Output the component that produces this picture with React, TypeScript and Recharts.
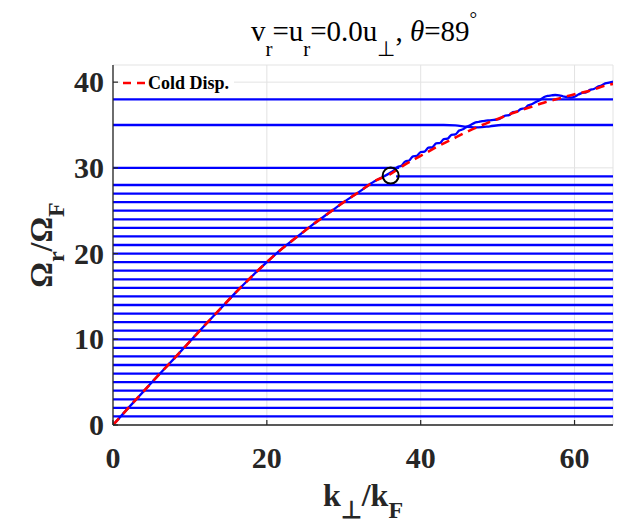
import React from 'react';
import { LineChart, Line, XAxis, YAxis, CartesianGrid, ReferenceDot } from 'recharts';

// cold dispersion (red dashed)
const kCold = [0, 2, 4, 6, 8, 10, 12, 14, 16, 18, 20, 22, 24, 26, 28, 30, 32, 34, 36, 38, 40, 42, 44, 46, 48, 50, 52, 54, 56, 58, 60, 62, 64, 65];
const omegaCold = [0, 2.0, 3.95, 5.9, 7.8, 9.75, 11.7, 13.6, 15.5, 17.3, 19.0, 20.6, 22.0, 23.4, 24.7, 26.0, 27.2, 28.45, 29.25, 30.4, 31.4, 32.4, 33.3, 34.2, 35.0, 35.7, 36.4, 37.0, 37.6, 38.1, 38.6, 39.0, 39.6, 39.8];

// blue branch following the dispersion curve
const kBranch = [0, 2, 4, 6, 8, 10, 12, 14, 16, 18, 20, 22, 24, 26, 28, 30, 32, 34, 35, 36,
  36.5, 37, 37.5, 38, 38.5, 39, 39.5, 40, 40.5, 41, 41.5, 42, 42.5, 43, 43.5, 44, 44.5, 45, 45.5, 46,
  46.5, 47, 47.5, 48, 48.5, 49, 49.5, 50, 50.5, 51, 51.5, 52, 52.5, 53, 53.5, 54, 54.5, 55, 55.5, 56,
  56.5, 57, 57.5, 58, 58.5, 59, 59.5, 60, 60.5, 61, 61.5, 62, 62.5, 63, 63.5, 64, 64.5, 65];
const omegaBranch = [0, 2.0, 3.95, 5.9, 7.8, 9.75, 11.7, 13.6, 15.5, 17.3, 19.0, 20.6, 22.0, 23.4, 24.7, 26.0, 27.2, 28.45, 28.9, 29.4,
  29.7, 30.1, 30.25, 30.75, 30.85, 31.35, 31.4, 31.85, 31.9, 32.35, 32.4, 32.85, 32.9, 33.35, 33.4, 33.85, 33.9, 34.35, 34.5, 34.8,
  35.0, 35.25, 35.35, 35.45, 35.5, 35.55, 35.6, 35.65, 35.85, 36.1, 36.15, 36.5, 36.55, 36.85, 36.95, 37.3, 37.45, 37.7, 37.9, 38.25,
  38.4, 38.45, 38.5, 38.45, 38.35, 38.25, 38.2, 38.3, 38.55, 38.75, 38.8, 39.1, 39.2, 39.45, 39.6, 39.85, 39.95, 40.05];

// flat branches
const fullLevels = [1, 2, 3, 4, 5, 6, 7, 8, 9, 10, 11, 12, 13, 14, 15, 16, 17, 18, 19, 20, 21, 22, 23, 24, 25, 26, 27, 28, 38];
const partialLevels = [30, 29];
const partialFrom = [0, 36.8];
const partialTo = [37.2, 65];

// level 35 branch with its small dip at the crossing
const k35 = [0, 43, 44.5, 46, 47.5, 49, 50.5, 65];
const omega35 = [35, 35, 34.95, 34.8, 34.72, 34.85, 35, 35];

const marker = [36.1, 29.1];

const xTicks = [0, 20, 40, 60];
const yTicks = [0, 10, 20, 30, 40];

const FONT = '"Liberation Serif", "Times New Roman", serif';
const INK = '#262626';
const BLUE = '#0000ff';

const coldData = kCold.map((k, i) => ({ k, w: omegaCold[i] }));
const branchData = kBranch.map((k, i) => ({ k, w: omegaBranch[i] }));
const data35 = k35.map((k, i) => ({ k, w: omega35[i] }));

const BottomTick = ({ x, y, payload }: any) => (
  <g>
    <line x1={x} x2={x} y1={y} y2={y - 5} stroke={INK} strokeWidth={1.2} />
    <text x={x} y={y + 43} textAnchor="middle" fontFamily={FONT} fontWeight="bold" fontSize={30} fill={INK}>{payload.value}</text>
  </g>
);
const LeftTick = ({ x, y, payload }: any) => (
  <g>
    <line x1={x} x2={x + 5} y1={y} y2={y} stroke={INK} strokeWidth={1.2} />
    <text x={x - 9} y={y + 10} textAnchor="end" fontFamily={FONT} fontWeight="bold" fontSize={30} fill={INK}>{payload.value}</text>
  </g>
);
const TopTick = ({ x, y }: any) => <line x1={x} x2={x} y1={y} y2={y + 5} stroke={INK} strokeWidth={1.2} />;
const RightTick = ({ x, y }: any) => <line x1={x} x2={x - 5} y1={y} y2={y} stroke={INK} strokeWidth={1.2} />;

export default function App() {
  return (
    <div style={{ position: 'absolute', left: 0, top: 0, width: 628, height: 531, background: '#fff' }}>
      <LineChart width={628} height={531} margin={{ top: 65, right: 15, bottom: 0, left: 0 }}>
        <CartesianGrid stroke="#e3e3e3" strokeWidth={1} />
        <XAxis dataKey="k" type="number" domain={[0, 65]} ticks={xTicks} height={106} allowDataOverflow
          axisLine={{ stroke: INK, strokeWidth: 1.3 }} tickLine={false} tickSize={0} tickMargin={0} tick={<BottomTick />} />
        <XAxis xAxisId="top" orientation="top" type="number" domain={[0, 65]} ticks={xTicks} height={0} allowDataOverflow
          axisLine={{ stroke: INK, strokeWidth: 1.3 }} tickLine={false} tickSize={0} tickMargin={0} tick={<TopTick />} />
        <YAxis type="number" domain={[0, 42]} ticks={yTicks} width={113} allowDataOverflow
          axisLine={{ stroke: INK, strokeWidth: 1.3 }} tickLine={false} tickSize={0} tickMargin={0} tick={<LeftTick />} />
        <YAxis yAxisId="right" orientation="right" type="number" domain={[0, 42]} ticks={yTicks} width={0} allowDataOverflow
          axisLine={{ stroke: INK, strokeWidth: 1.3 }} tickLine={false} tickSize={0} tickMargin={0} tick={<RightTick />} />

        {fullLevels.map((lv) => (
          <Line key={'lv' + lv} data={[{ k: 0, w: lv }, { k: 65, w: lv }]} dataKey="w" type="linear"
            stroke={BLUE} strokeWidth={2.3} dot={false} activeDot={false} isAnimationActive={false} />
        ))}
        {partialLevels.map((lv, i) => (
          <Line key={'pl' + lv} data={[{ k: partialFrom[i], w: lv }, { k: partialTo[i], w: lv }]} dataKey="w" type="linear"
            stroke={BLUE} strokeWidth={2.3} dot={false} activeDot={false} isAnimationActive={false} />
        ))}
        <Line data={data35} dataKey="w" type="monotone" stroke={BLUE} strokeWidth={2.3} dot={false} activeDot={false} isAnimationActive={false} />
        <Line data={branchData} dataKey="w" type="monotone" stroke={BLUE} strokeWidth={2.3} dot={false} activeDot={false} isAnimationActive={false} />
        <Line data={coldData} dataKey="w" type="monotone" stroke="#ff0000" strokeWidth={2.6} strokeDasharray="9 6"
          dot={false} activeDot={false} isAnimationActive={false} />
        <ReferenceDot x={marker[0]} y={marker[1]} r={8} fill="none" stroke="#000" strokeWidth={2} />
      </LineChart>

      <svg width={628} height={531} style={{ position: 'absolute', left: 0, top: 0, pointerEvents: 'none' }}>
        <rect x={120} y={71} width={114} height={24} fill="#fff" />
        <line x1={119} x2={146} y1={83} y2={83} stroke="#ff0000" strokeWidth={2.6} strokeDasharray="8 6" strokeDashoffset={-4} />
        <text x={148} y={89} fontFamily={FONT} fontWeight="bold" fontSize={18} fill="#000">Cold Disp.</text>

        <text x={364} y={41} textAnchor="middle" fontFamily={FONT} fontSize={29} fill="#000">
          v<tspan dy={15} fontSize={21}>r</tspan><tspan dy={-15}>=u</tspan><tspan dy={15} fontSize={21}>r</tspan>
          <tspan dy={-15}>=0.0u</tspan><tspan dy={15} fontSize={21}>⊥</tspan><tspan dy={-15}>, </tspan>
          <tspan fontStyle="italic">θ</tspan><tspan>=89</tspan><tspan dy={-16} fontSize={19}>°</tspan>
        </text>

        <text x={363} y={506} textAnchor="middle" fontFamily={FONT} fontWeight="bold" fontSize={32} fill={INK}>
          k<tspan dy={12} fontSize={24}>⊥</tspan><tspan dy={-12}>/k</tspan><tspan dy={12} fontSize={24}>F</tspan>
        </text>

        <text transform="translate(52,245) rotate(-90)" textAnchor="middle" fontFamily={FONT} fontWeight="bold" fontSize={32} fill={INK}>
          Ω<tspan dy={12} fontSize={24}>r</tspan><tspan dy={-12}>/Ω</tspan><tspan dy={12} fontSize={24}>F</tspan>
        </text>
      </svg>
    </div>
  );
}
